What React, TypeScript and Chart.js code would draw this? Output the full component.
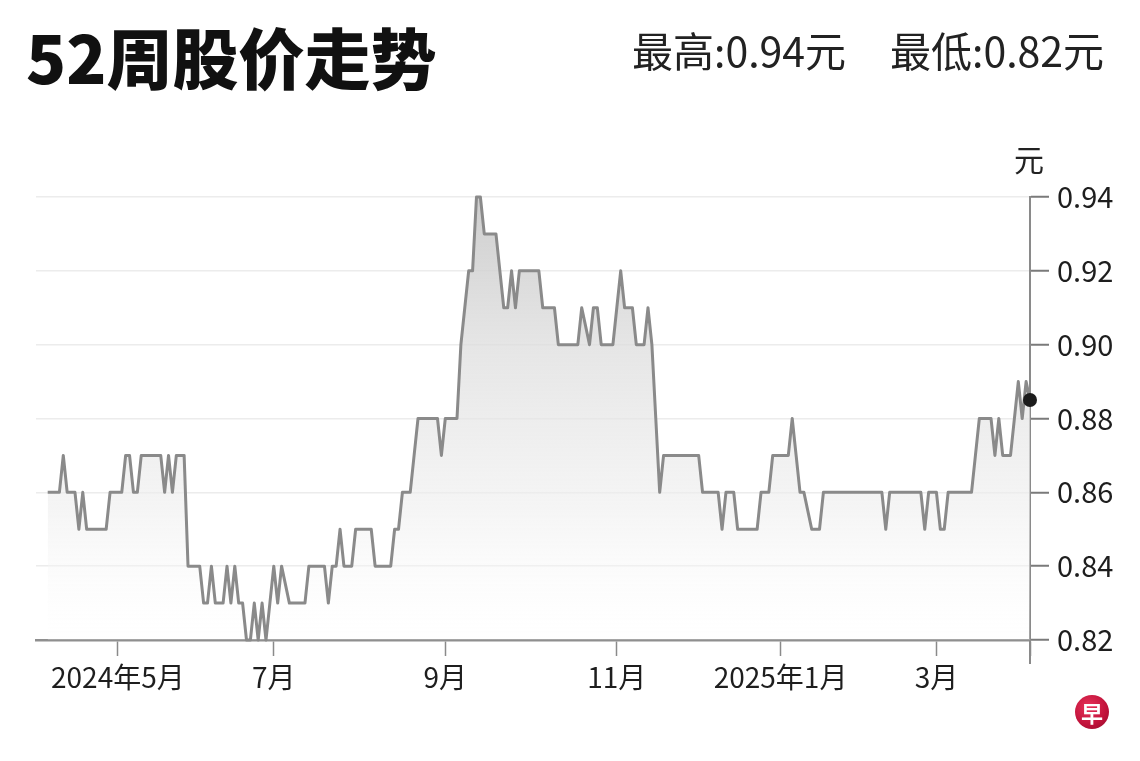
import React, { useEffect, useRef } from "react";
import { Chart, registerables } from "chart.js";

Chart.register(...registerables);

// Trading-day index (0 = first session of the 52-week window) and closing price at each turning point
const days = [
  0, 3, 4, 5, 7, 8, 9, 10, 15, 16, 19, 20, 21, 22, 23, 24, 29, 30, 31, 32, 33, 35,
  36, 39, 40, 41, 42, 43, 45, 46, 47, 48, 49, 50, 51, 52, 53, 54, 55, 56, 57, 58, 59, 60,
  62, 66, 67, 71, 72, 73, 74, 75, 76, 78, 79, 83, 84, 88, 89, 90, 91, 93, 94, 95,
  100, 101, 102, 105, 106, 107, 108, 109, 110, 111, 112, 115, 116, 117, 118, 119, 120, 121,
  126, 127, 130, 131, 136, 137, 139, 140, 141, 142, 145, 146, 147, 148, 150, 151, 153, 154,
  155, 156, 157, 158, 167, 168, 172, 173, 174, 176, 177, 182, 183, 185, 186, 189, 190, 191,
  192, 193, 194, 196, 198, 199, 214, 215, 216, 224, 225, 226, 228, 229, 230, 231, 237, 238,
  239, 242, 243, 244, 245, 247, 249, 250, 251, 252,
];
const prices = [
  0.86, 0.86, 0.87, 0.86, 0.86, 0.85, 0.86, 0.85, 0.85, 0.86, 0.86, 0.87, 0.87, 0.86, 0.86, 0.87, 0.87, 0.86, 0.87, 0.86, 0.87, 0.87,
  0.84, 0.84, 0.83, 0.83, 0.84, 0.83, 0.83, 0.84, 0.83, 0.84, 0.83, 0.83, 0.82, 0.82, 0.83, 0.82, 0.83, 0.82, 0.83, 0.84, 0.83, 0.84,
  0.83, 0.83, 0.84, 0.84, 0.83, 0.84, 0.84, 0.85, 0.84, 0.84, 0.85, 0.85, 0.84, 0.84, 0.85, 0.85, 0.86, 0.86, 0.87, 0.88,
  0.88, 0.87, 0.88, 0.88, 0.9, 0.91, 0.92, 0.92, 0.94, 0.94, 0.93, 0.93, 0.92, 0.91, 0.91, 0.92, 0.91, 0.92,
  0.92, 0.91, 0.91, 0.9, 0.9, 0.91, 0.9, 0.91, 0.91, 0.9, 0.9, 0.91, 0.92, 0.91, 0.91, 0.9, 0.9, 0.91,
  0.9, 0.88, 0.86, 0.87, 0.87, 0.86, 0.86, 0.85, 0.86, 0.86, 0.85, 0.85, 0.86, 0.86, 0.87, 0.87, 0.87, 0.88,
  0.87, 0.86, 0.86, 0.85, 0.85, 0.86, 0.86, 0.85, 0.86, 0.86, 0.85, 0.86, 0.86, 0.85, 0.85, 0.86, 0.86, 0.87,
  0.88, 0.88, 0.87, 0.88, 0.87, 0.87, 0.89, 0.88, 0.89, 0.885,
];

// Axis ticks
const xTickDays = [18, 58, 102, 146, 188, 228, 252];
const xTickLabels = ["2024年5月", "7月", "9月", "11月", "2025年1月", "3月", ""];
const yTicks = [0.82, 0.84, 0.86, 0.88, 0.9, 0.92, 0.94];

const titleText = "52周股价走势";
const highLabel = "最高";
const lowLabel = "最低";
const unitLabel = "元";

const AXIS_FONT = "'Noto Sans CJK SC', sans-serif";

export default function App() {
  const canvasRef = useRef<HTMLCanvasElement | null>(null);

  useEffect(() => {
    const canvas = canvasRef.current;
    if (!canvas) return;
    const lastIndex = days.length - 1;

    const axisEndPlugin = {
      id: "axisEnd",
      afterDraw(chart: any) {
        const { ctx, chartArea } = chart;
        ctx.save();
        ctx.strokeStyle = "#8a8a8a";
        ctx.lineWidth = 2;
        ctx.beginPath();
        ctx.moveTo(chartArea.right, chartArea.bottom);
        ctx.lineTo(chartArea.right, chartArea.bottom + 24);
        ctx.stroke();
        ctx.restore();
      },
    };

    const chart = new Chart(canvas, {
      type: "line",
      data: {
        datasets: [
          {
            data: days.map((d, i) => ({ x: d, y: prices[i] })),
            borderColor: "#8a8a8a",
            borderWidth: 3,
            borderJoinStyle: "round",
            tension: 0,
            fill: "start",
            backgroundColor: (ctx: any) => {
              const { chart: c } = ctx;
              const area = c.chartArea;
              if (!area) return "rgba(0,0,0,0)";
              const g = c.ctx.createLinearGradient(0, area.top, 0, area.bottom);
              g.addColorStop(0, "rgba(200,200,200,0.9)");
              g.addColorStop(0.35, "rgba(222,222,222,0.75)");
              g.addColorStop(0.7, "rgba(238,238,238,0.6)");
              g.addColorStop(1, "rgba(255,255,255,0.2)");
              return g;
            },
            pointRadius: (ctx: any) => (ctx.dataIndex === lastIndex ? 7 : 0),
            pointBackgroundColor: "#1c1c1c",
            pointBorderWidth: 0,
            pointHoverRadius: 0,
            clip: false as any,
          },
        ],
      },
      options: {
        responsive: false,
        animation: false,
        events: [],
        layout: { padding: { left: 36, top: 197, right: 0, bottom: 0 } },
        plugins: {
          legend: { display: false },
          tooltip: { enabled: false },
          title: { display: false },
        },
        scales: {
          x: {
            type: "linear",
            min: -3,
            max: 252,
            afterFit: (scale: any) => {
              scale.height = 121;
            },
            afterBuildTicks: (scale: any) => {
              scale.ticks = xTickDays.map((v) => ({ value: v }));
            },
            ticks: {
              autoSkip: false,
              maxRotation: 0,
              padding: 5,
              color: "#1e1e1e",
              font: { family: AXIS_FONT, size: 28 },
              callback: (_v: any, i: number) => xTickLabels[i],
            },
            grid: {
              drawOnChartArea: false,
              drawTicks: true,
              tickLength: 16,
              tickColor: "#8a8a8a",
              tickWidth: 1.5,
            },
            border: { display: true, color: "#8f8f8f", width: 2.5 },
          },
          y: {
            type: "linear",
            position: "right",
            min: 0.82,
            max: 0.94,
            afterFit: (scale: any) => {
              scale.width = 110;
            },
            afterBuildTicks: (scale: any) => {
              scale.ticks = yTicks.map((v) => ({ value: v }));
            },
            ticks: {
              padding: 8,
              color: "#1e1e1e",
              font: { family: AXIS_FONT, size: 29 },
              callback: (v: any) => Number(v).toFixed(2),
            },
            grid: {
              color: "#ececec",
              lineWidth: 1.5,
              drawTicks: true,
              tickLength: 19,
              tickColor: "#7a7a7a",
              tickWidth: 2,
            },
            border: { display: true, color: "#8a8a8a", width: 2 },
          },
        },
      },
      plugins: [axisEndPlugin],
    });

    return () => chart.destroy();
  }, []);

  const hi = Math.max(...prices).toFixed(2);
  const lo = Math.min(...prices).toFixed(2);

  return (
    <div
      style={{
        position: "absolute",
        left: 0,
        top: 0,
        width: 1140,
        height: 761,
        background: "#ffffff",
        overflow: "hidden",
      }}
    >
      <canvas
        ref={canvasRef}
        width={1140}
        height={761}
        style={{ position: "absolute", left: 0, top: 0, width: 1140, height: 761 }}
      />
      <div
        style={{
          position: "absolute",
          left: 26,
          top: 22,
          fontFamily: "'Noto Sans CJK SC', sans-serif",
          fontWeight: 900,
          fontSize: 66,
          lineHeight: 1,
          color: "#111",
          whiteSpace: "nowrap",
        }}
      >
        {titleText}
      </div>
      <div
        style={{
          position: "absolute",
          left: 632,
          top: 29,
          fontFamily: "'Noto Sans CJK SC', sans-serif",
          fontSize: 41,
          lineHeight: 1,
          color: "#222",
          whiteSpace: "nowrap",
        }}
      >
        {highLabel}:{hi}元
      </div>
      <div
        style={{
          position: "absolute",
          left: 890,
          top: 29,
          fontFamily: "'Noto Sans CJK SC', sans-serif",
          fontSize: 41,
          lineHeight: 1,
          color: "#222",
          whiteSpace: "nowrap",
        }}
      >
        {lowLabel}:{lo}元
      </div>
      <div
        style={{
          position: "absolute",
          left: 1014,
          top: 143,
          fontFamily: "'Noto Sans CJK SC', sans-serif",
          fontSize: 30,
          lineHeight: 1,
          color: "#222",
        }}
      >
        {unitLabel}
      </div>
      <div
        style={{
          position: "absolute",
          left: 1075,
          top: 695,
          width: 34,
          height: 34,
          borderRadius: "50%",
          background: "radial-gradient(circle at 40% 35%, #e8325a 0%, #c0123a 60%, #8e0a2a 100%)",
          color: "#fff",
          fontFamily: "'Noto Sans CJK SC', sans-serif",
          fontWeight: 700,
          fontSize: 22,
          lineHeight: "34px",
          textAlign: "center",
        }}
      >
        早
      </div>
    </div>
  );
}
